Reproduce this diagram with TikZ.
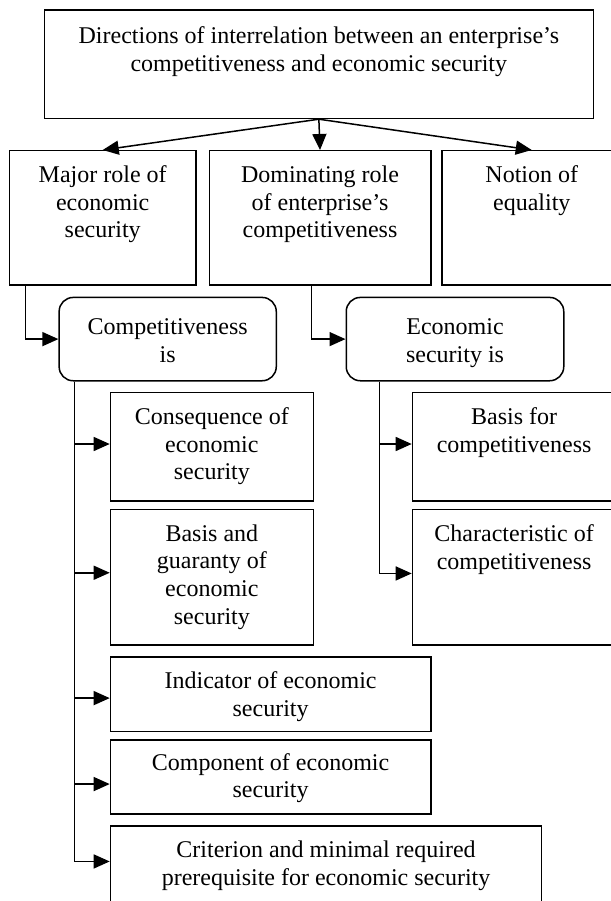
\documentclass[tikz,border=0pt]{standalone}
\usepackage{fontspec}
\setmainfont{Liberation Serif}
\usetikzlibrary{arrows.meta}

\begin{document}
\begin{tikzpicture}[x=1pt, y=-1pt,
		box/.style={draw, line width=1.5pt, inner sep=0pt, anchor=north west},
		rbox/.style={box, rounded corners=14pt},
		txt/.style={anchor=north, align=center, inner sep=0pt, font=\fontsize{24}{27.6}\selectfont, execute at begin node=\strut},
		arr/.style={line width=1.5pt, -{Triangle[length=16pt, width=14pt]}}]

		\useasboundingbox (0,0) rectangle (610,901);

		% top box
		\node[box, minimum width=549pt, minimum height=108.2pt, label={[txt, yshift=-17.4pt]north:Directions of interrelation between an enterprise’s\\competitiveness and economic security}] (dir) at (43.6,9.5) {};

		% three directions
		\node[box, minimum width=186.7pt, minimum height=134pt, label={[txt, yshift=-15.7pt]north:Major role of\\economic\\security}] (major) at (8.6,150) {};
		\node[box, minimum width=221.4pt, minimum height=134pt, label={[txt, yshift=-15.7pt]north:Dominating role\\of enterprise’s\\competitiveness}] (domin) at (208.6,150) {};
		\node[box, minimum width=180pt, minimum height=134pt, label={[txt, yshift=-15.7pt]north:Notion of\\equality}] (equal) at (441,150) {};

		\draw[arr] (dir.south) -- (major.north);
		\draw[arr] (dir.south) -- (domin.north);
		\draw[arr] (dir.south) -- (equal.north);

		% rounded boxes
		\node[rbox, minimum width=217.1pt, minimum height=83.3pt, label={[txt, yshift=-21.7pt]north:Competitiveness\\is}] (comp) at (58.4,296.7) {};
		\node[rbox, minimum width=217.5pt, minimum height=83.3pt, label={[txt, yshift=-21.7pt]north:Economic\\security is}] (esec) at (345.5,296.7) {};

		\draw[arr] ([xshift=16.7pt]major.south west) |- (comp.west);
		\draw[arr] ([xshift=102.7pt]domin.south west) |- (esec.west);

		% competitiveness is ...
		\node[box, minimum width=202.8pt, minimum height=108.3pt, label={[txt, yshift=-15.7pt]north:Consequence of\\economic\\security}] (conseq) at (109.7,391.7) {};
		\node[box, minimum width=202.8pt, minimum height=135.6pt, label={[txt, yshift=-15.7pt]north:Basis and\\guaranty of\\economic\\security}] (guar) at (109.7,508.7) {};
		\node[box, minimum width=320.3pt, minimum height=74.7pt, label={[txt, yshift=-15.7pt]north:Indicator of economic\\security}] (indic) at (109.7,656) {};
		\node[box, minimum width=320.3pt, minimum height=74pt, label={[txt, yshift=-13.6pt]north:Component of economic\\security}] (compon) at (109.7,739.3) {};
		\node[box, minimum width=431.2pt, minimum height=80pt, label={[txt, yshift=-15.7pt]north:Criterion and minimal required\\prerequisite for economic security}] (crit) at (109.7,825) {};

		\draw[arr] ([xshift=16.3pt]comp.south west) |- ([yshift=2.6pt]conseq.west);
		\draw[arr] ([xshift=16.3pt]comp.south west) |- ([yshift=4.5pt]guar.west);
		\draw[arr] ([xshift=16.3pt]comp.south west) |- ([yshift=-4pt]indic.west);
		\draw[arr] ([xshift=16.3pt]comp.south west) |- ([yshift=-7pt]compon.west);
		\draw[arr] ([xshift=16.3pt]comp.south west) |- ([yshift=4.3pt]crit.west);

		% economic security is ...
		\node[box, minimum width=203.3pt, minimum height=108.3pt, label={[txt, yshift=-15.7pt]north:Basis for\\competitiveness}] (basis) at (411.7,391.7) {};
		\node[box, minimum width=203.3pt, minimum height=135.6pt, label={[txt, yshift=-15.7pt]north:Characteristic of\\competitiveness}] (charac) at (411.7,508.7) {};

		\draw[arr] ([xshift=33.9pt]esec.south west) |- ([yshift=2.6pt]basis.west);
		\draw[arr] ([xshift=33.9pt]esec.south west) |- ([yshift=3.8pt]charac.west);
	\end{tikzpicture}
\end{document}
